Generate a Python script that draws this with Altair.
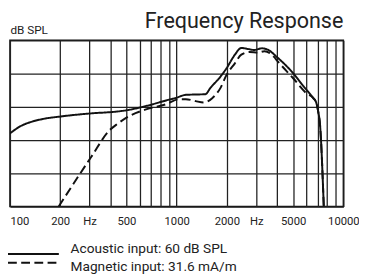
import altair as alt
import pandas as pd

# ---- data ----
freq_acoustic = [100, 115, 137, 160, 202, 302, 442, 506, 662, 892, 991, 1135, 1300, 1488,
                 1594, 1833, 1992, 2230, 2443, 2675, 2920, 3250, 3575, 3990, 5000, 5760,
                 6580, 6870, 7050, 7250, 7630]
db_acoustic = [102.0, 104.1, 105.6, 106.4, 107.1, 108.0, 108.6, 109.0, 110.3, 112.1, 112.7,
               113.6, 113.7, 113.8, 115.7, 119.1, 121.6, 125.6, 127.7, 127.4, 127.1, 127.6,
               127.0, 125.0, 120.1, 116.2, 112.7, 111.3, 108.8, 104.4, 80.0]

freq_magnetic = [196, 307, 395, 442, 506, 662, 867, 1035, 1135, 1300, 1450, 1634, 1833,
                 1992, 2230, 2443, 2740, 3070, 3360, 3840, 3990, 5000, 5970, 6580, 6870,
                 7050, 7250, 7630]
db_magnetic = [80.0, 94.9, 102.9, 104.9, 106.9, 109.3, 110.8, 112.3, 112.3, 111.7, 111.3,
               112.6, 115.7, 119.6, 123.0, 125.7, 126.5, 126.3, 126.7, 125.0, 124.0, 118.6,
               114.2, 112.7, 111.3, 108.8, 104.4, 80.0]

series_names = ["Acoustic input: 60 dB SPL", "Magnetic input: 31.6 mA/m"]
series_dashes = [[1, 0], [9, 4.5]]

x_grid = [100, 200, 300, 400, 500, 600, 700, 800, 900, 1000, 2000, 3000, 4000, 5000,
          6000, 7000, 8000, 9000, 10000]
x_labelled = [100, 200, 500, 1000, 2000, 5000, 10000]
x_hz = [300, 3000]
y_ticks = [80, 90, 100, 110, 120, 130]

rows = []
for f, d in zip(freq_acoustic, db_acoustic):
    rows.append({"freq": f, "db": d, "series": series_names[0]})
for f, d in zip(freq_magnetic, db_magnetic):
    rows.append({"freq": f, "db": d, "series": series_names[1]})
df = pd.DataFrame(rows)
legend_df = pd.DataFrame({"series": series_names})

FONT = "Roboto"
INK = "#111"
TXT = "#222"
GRID = "#222"

label_expr = (
    "indexof([" + ",".join(str(v) for v in x_hz) + "], datum.value) >= 0 ? 'Hz' : "
    "(indexof([" + ",".join(str(v) for v in x_labelled) + "], datum.value) >= 0 ? datum.label : '')"
)

dash_scale = alt.Scale(domain=series_names, range=series_dashes)

lines = alt.Chart(df).mark_line(strokeWidth=2, color=INK, interpolate="monotone", clip=True).encode(
    x=alt.X("freq:Q",
            scale=alt.Scale(type="log", domain=[100, 10000], nice=False),
            axis=alt.Axis(values=x_grid, format="d", labelExpr=label_expr, title=None,
                          ticks=False, domain=False, labelPadding=9, labelFontSize=11.5,
                          labelFont=FONT, labelColor=TXT, labelOverlap=False,
                          labelFlush=False,
                          labelAlign={"condition": {"test": "datum.value == 100", "value": "left"},
                                      "value": "center"},
                          gridColor=GRID, gridWidth=1.3, gridOpacity=1)),
    y=alt.Y("db:Q",
            scale=alt.Scale(domain=[80, 130], nice=False, zero=False),
            axis=alt.Axis(values=y_ticks, labels=False, title="dB SPL", titleAngle=0, titleX=0,
                          titleY=-7, titleAlign="left", titleBaseline="alphabetic",
                          titleFont=FONT, titleFontSize=12, titleFontWeight="normal",
                          titleColor=TXT, ticks=False, domain=False,
                          gridColor=GRID, gridWidth=1.3, gridOpacity=1)),
    strokeDash=alt.StrokeDash("series:N", scale=dash_scale, legend=None),
)

legend_y = alt.Y("series:N", scale=alt.Scale(domain=series_names, range=[214, 232], padding=0),
                 axis=None)

legend_rules = alt.Chart(legend_df).mark_rule(strokeWidth=2, color=INK, clip=False).encode(
    y=legend_y,
    x=alt.value(-2),
    x2=alt.value(50),
    strokeDash=alt.StrokeDash("series:N", scale=dash_scale, legend=None),
)

legend_text = alt.Chart(legend_df).mark_text(align="left", baseline="middle", font=FONT,
                                             fontSize=14, color=TXT, clip=False).encode(
    y=legend_y,
    x=alt.value(62),
    text="series:N",
)

chart = alt.layer(lines, legend_rules, legend_text).resolve_scale(
    y="independent"
).properties(
    width=341,
    height=170,
    title=alt.TitleParams("Frequency Response", anchor="end", frame="group", font=FONT,
                          fontSize=22, fontWeight="normal", color=TXT, offset=4, dy=13),
    padding={"left": 2, "top": 30, "right": 16, "bottom": 69},
    autosize=alt.AutoSizeParams(type="none"),
).configure_view(
    stroke=INK, strokeWidth=1.5
)

chart.save("out.html", embed_options={"renderer": "svg", "actions": False})
